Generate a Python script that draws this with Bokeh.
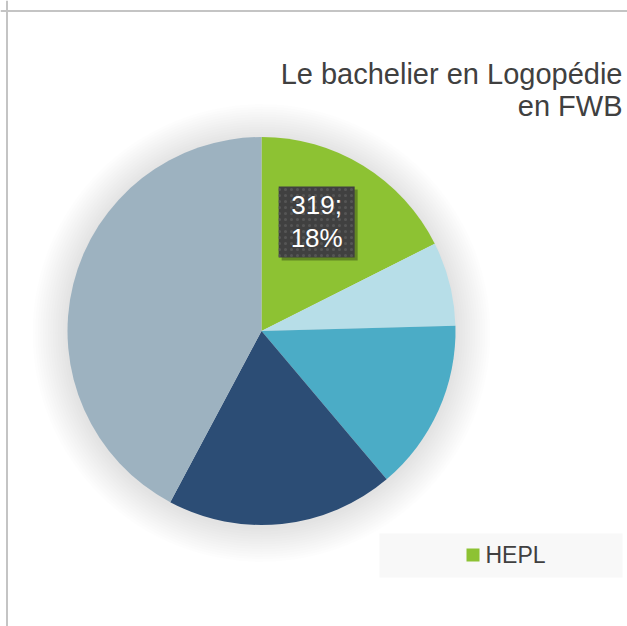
import math
import numpy as np
from bokeh.plotting import figure
from bokeh.models import ColumnDataSource, Span
from bokeh.core.properties import value
from bokeh.embed import file_html
from bokeh.resources import INLINE

# ---- data ----
title_lines = ["Le bachelier en Logopédie", "en FWB"]
categories = ["HEPL", "École B", "École C", "École D", "École E"]
counts = [319, 127, 259, 344, 766]
colors = ["#8DC233", "#B7DEE8", "#4BACC6", "#2C4D75", "#9DB2C0"]
legend_shown = ["HEPL"]
labelled = ["HEPL"]

FONT = value("Liberation Sans")
W, H = 627, 626

p = figure(width=W, height=H, x_range=(-8, W - 8), y_range=(618 - H, 618),
           output_backend="svg", toolbar_location=None, min_border=0,
           x_axis_type=None, y_axis_type=None)
p.grid.visible = False
p.outline_line_color = None
p.background_fill_color = "white"
p.border_fill_color = "white"

# frame lines (slide border)
p.add_layout(Span(location=-1.5, dimension="height", line_color="#c4c4c4", line_width=2))
p.add_layout(Span(location=607.5, dimension="width", line_color="#c4c4c4", line_width=2))

# ---- pie geometry ----
cx, cy, r = 253, 287.5, 194
vals = np.array(counts, dtype=float)
fr = vals / vals.sum()
cum = np.cumsum(fr)
prev = np.concatenate([[0], cum[:-1]])
start = math.pi / 2 - 2 * math.pi * prev
end = math.pi / 2 - 2 * math.pi * cum

# soft shadow
for k in range(14):
    p.circle(x=cx, y=cy - 2, radius=r + 2.5 * (k + 1), fill_color="black",
             fill_alpha=0.0065, line_color=None)

src = ColumnDataSource(dict(cat=categories, val=counts, color=colors,
                            start=start, end=end))
p.wedge(x=cx, y=cy, radius=r, start_angle="start", end_angle="end",
        direction="clock", fill_color="color", line_color=None, source=src)

# ---- data label ----
for i, c in enumerate(categories):
    if c not in labelled:
        continue
    mid = (start[i] + end[i]) / 2
    lx = cx + 0.66 * r * math.cos(mid) - 12
    ly = cy + 0.66 * r * math.sin(mid)
    pct = round(100 * fr[i])
    p.rect(x=lx + 3, y=ly - 3, width=76, height=71, fill_color="black",
           fill_alpha=0.3, line_color=None)
    p.rect(x=lx, y=ly, width=76, height=71, fill_color="#404040",
           line_color=None, hatch_pattern=".", hatch_color="#555555",
           hatch_scale=6, hatch_weight=1)
    p.text(x=[lx], y=[ly], text=[f"{counts[i]};\n{pct}%"], text_align="center",
           text_baseline="middle", text_line_height=1.1, text_font=FONT,
           text_font_size="26px", text_color="white")

# ---- title ----
p.text(x=[614, 614], y=[544.5, 512.5], text=title_lines, text_align="right",
       text_baseline="alphabetic", text_font=FONT, text_font_size="29px",
       text_color="#404040")

# ---- legend ----
p.rect(x=492.5, y=63, width=243, height=44, fill_color="#f8f8f8", line_color=None)
for j, name in enumerate(legend_shown):
    ci = categories.index(name)
    p.rect(x=464.5, y=63.5, width=13, height=13, fill_color=colors[ci], line_color=None)
    p.text(x=[477], y=[63.5], text=[name], text_align="left",
           text_baseline="alphabetic", text_font=FONT, text_font_size="23px",
           text_color="#404040")

open("out.html", "w").write(file_html(p, INLINE))
